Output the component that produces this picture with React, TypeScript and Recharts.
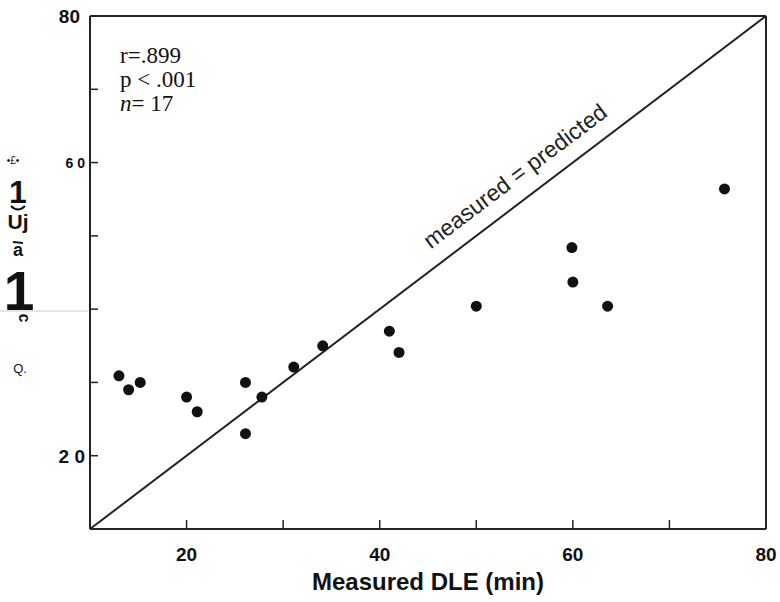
import React from 'react';
import { ScatterChart, Scatter, XAxis, YAxis, ReferenceLine, ReferenceDot } from 'recharts';

// measured vs predicted DLE (min)
const measured = [13, 14, 15.2, 20, 21.1, 26.1, 26.1, 27.8, 31.1, 34.1, 41, 42, 50, 59.9, 60, 63.6, 75.7];
const predicted = [30.9, 29, 30, 28, 26, 30, 23, 28, 32.1, 35, 37, 34.1, 40.4, 48.4, 43.7, 40.4, 56.4];

const axisTicks = [10, 20, 30, 40, 50, 60, 70, 80];
const xTickLabels: Record<number, string> = { 20: '20', 40: '40', 60: '60', 80: '80' };
const yTickLabels: Record<number, string> = { 80: '80', 60: '6 0', 20: '2 0' };
const statLines = ['r=.899', 'p < .001', '= 17'];

const points = measured.map((x, i) => ({ x, y: predicted[i] }));

const SANS = '"Liberation Sans", Arial, sans-serif';
const SERIF = '"Liberation Serif", "Times New Roman", serif';
const INK = '#222';

const XTick = (props: any) => {
  const { x, y, payload } = props;
  const label = xTickLabels[payload.value];
  return (
    <g>
      <line x1={x} y1={y} x2={x} y2={y - 9} stroke={INK} strokeWidth={1.5} />
      {label && (
        <text x={x} y={y + 32} textAnchor="middle" fontFamily={SANS} fontWeight="bold" fontSize={19} fill="#111">
          {label}
        </text>
      )}
    </g>
  );
};

const YTick = (props: any) => {
  const { x, y, payload } = props;
  const v = payload.value;
  const label = yTickLabels[v];
  const small = v === 60;
  return (
    <g>
      {v !== 10 && v !== 80 && <line x1={x} y1={y} x2={x + 8} y2={y} stroke={INK} strokeWidth={1.5} />}
      {label && (
        <text
          x={x - (v === 80 ? 10 : 5)}
          y={y + (small ? 5 : 7)}
          textAnchor="end"
          fontFamily={SANS}
          fontWeight="bold"
          fontSize={small ? 14 : 19}
          fill="#111"
        >
          {label}
        </text>
      )}
    </g>
  );
};

const Dot = (props: any) => <circle cx={props.cx} cy={props.cy} r={5.5} fill="#111" />;

const DiagLabel = (props: any) => {
  const { viewBox } = props;
  const cx = viewBox.x + viewBox.width / 2;
  const cy = viewBox.y + viewBox.height / 2;
  return (
    <text
      x={cx}
      y={cy}
      textAnchor="middle"
      fontFamily={SANS}
      fontSize={23}
      fill={INK}
      transform={`rotate(-37 ${cx} ${cy})`}
    >
      measured = predicted
    </text>
  );
};

// the scanned y axis title came out as garbled fragments; kept as they appear
const GarbledTitle = () => (
  <svg width={90} height={400} style={{ position: 'absolute', left: 0, top: 0, pointerEvents: 'none' }}>
    <text x={13} y={164} textAnchor="middle" fontFamily={SANS} fontSize={10} fill="#111">•£•</text>
    <text x={18} y={203} textAnchor="middle" fontFamily={SANS} fontWeight="bold" fontSize={32} fill="#111">1</text>
    <path d="M11 206 Q18 213 25 206" stroke="#111" strokeWidth={2} fill="none" />
    <text x={18} y={229} textAnchor="middle" fontFamily={SANS} fontWeight="bold" fontSize={21} fill="#111">Uj</text>
    <line x1={13} y1={242} x2={23} y2={243} stroke="#111" strokeWidth={2} />
    <text x={18} y={256} textAnchor="middle" fontFamily={SANS} fontWeight="bold" fontSize={18} fill="#111">a</text>
    <text x={19} y={310} textAnchor="middle" fontFamily={SANS} fontWeight="bold" fontSize={55} fill="#111">1</text>
    <text x={19} y={318} textAnchor="middle" fontFamily={SANS} fontWeight="bold" fontSize={16} fill="#111" transform="rotate(90 19 318)">c</text>
    <text x={20} y={373} textAnchor="middle" fontFamily={SANS} fontSize={13} fill="#111">Q.</text>
    <line x1={0} y1={311} x2={88} y2={311} stroke="#ccc" strokeWidth={1} />
  </svg>
);

export default function App() {
  return (
    <div style={{ position: 'absolute', left: 0, top: 0, width: 780, height: 602, background: '#fff' }}>
      <ScatterChart width={780} height={602} margin={{ top: 16, right: 14, bottom: 0, left: 0 }}>
        <XAxis
          type="number"
          dataKey="x"
          domain={[10, 80]}
          ticks={axisTicks}
          height={73}
          tickSize={0}
          tickMargin={0}
          tickLine={false}
          tick={<XTick />}
          axisLine={{ stroke: INK, strokeWidth: 2 }}
          label={{
            value: 'Measured DLE (min)',
            position: 'insideBottom',
            offset: 12,
            style: { fontFamily: SANS, fontWeight: 'bold', fontSize: 24, fill: '#111' },
          }}
        />
        <YAxis
          type="number"
          dataKey="y"
          domain={[10, 80]}
          ticks={axisTicks}
          width={90}
          tickSize={0}
          tickMargin={0}
          tickLine={false}
          tick={<YTick />}
          axisLine={{ stroke: INK, strokeWidth: 2 }}
        />
        <ReferenceLine y={80} stroke={INK} strokeWidth={2} />
        <ReferenceLine x={80} stroke={INK} strokeWidth={2} />
        <ReferenceLine
          segment={[{ x: 10, y: 10 }, { x: 80, y: 80 }]}
          stroke={INK}
          strokeWidth={2}
        />
        <ReferenceDot x={54.5} y={57.3} r={0} stroke="none" label={<DiagLabel />} />
        <Scatter data={points} shape={<Dot />} isAnimationActive={false} />
      </ScatterChart>
      <GarbledTitle />
      <div
        style={{
          position: 'absolute',
          left: 120,
          top: 44,
          fontFamily: SERIF,
          fontSize: 23,
          lineHeight: '24px',
          color: '#111',
        }}
      >
        <div>{statLines[0]}</div>
        <div>{statLines[1]}</div>
        <div>
          <i>n</i>
          {statLines[2]}
        </div>
      </div>
    </div>
  );
}
